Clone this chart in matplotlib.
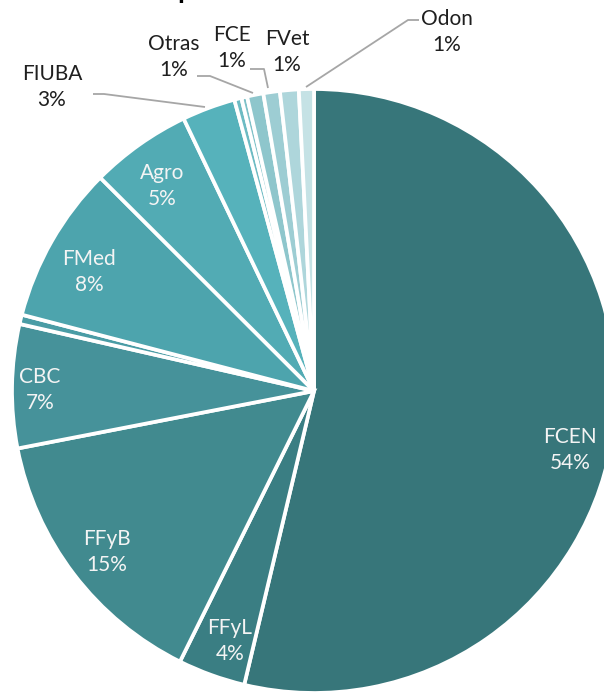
import matplotlib
matplotlib.use("Agg")
import matplotlib.pyplot as plt

# ---- data ----
categories = ["FCEN", "FFyL", "FFyB", "CBC", "", "FMed", "Agro", "FIUBA",
              "", "", "Otras", "FCE", "FVet", "Odon"]
values = [53.6, 3.6, 14.6, 6.6, 0.5, 8.4, 5.4, 2.85,
          0.38, 0.31, 0.87, 0.88, 1.0, 0.8]
colors = ["#37767A", "#3A7E83", "#418A8F", "#46929A", "#4A9CA5", "#4DA4AD",
          "#52ABB4", "#56B2BB", "#6DBBC3", "#7EC1C8", "#8EC6CC", "#9DCDD3",
          "#AED6DB", "#C5E2E5"]

W, H = 604, 692
CX, CY, R = 314, 391, 302

def px(x, y):
    """pixel position -> data coordinates (pie radius = 1)"""
    return (x - CX) / R, (CY - y) / R

fig = plt.figure(figsize=(W / 100, H / 100), dpi=100)
ax = fig.add_axes([0, 0, 1, 1])

ax.pie(values, colors=colors, startangle=90, counterclock=False,
       radius=1.0, center=(0, 0),
       wedgeprops=dict(edgecolor="white", linewidth=2.7))

ax.set_aspect("auto")
ax.set_xlim(-CX / R, (W - CX) / R)
ax.set_ylim(-(H - CY) / R, CY / R)
ax.axis("off")

FONT = ["Lato", "DejaVu Sans"]
FS = 15

# label centre positions (pixels) and colour
label_pos = {
    "FCEN": ((570, 450), "#F4F4F4"),
    "FFyL": ((230, 641), "#F4F4F4"),
    "FFyB": ((107, 552), "#F4F4F4"),
    "CBC": ((40, 390), "#F4F4F4"),
    "FMed": ((89, 272), "#F4F4F4"),
    "Agro": ((162, 186), "#F4F4F4"),
    "FIUBA": ((52, 87), "#1F1F1F"),
    "Otras": ((174, 57), "#1F1F1F"),
    "FCE": ((232, 48), "#1F1F1F"),
    "FVet": ((287, 52), "#1F1F1F"),
    "Odon": ((447, 32), "#1F1F1F"),
}

for cat, val in zip(categories, values):
    if not cat:
        continue
    (lx, ly), col = label_pos[cat]
    x, y = px(lx, ly)
    ax.text(x, y, f"{cat}\n{round(val)}%", ha="center", va="center",
            fontsize=FS, color=col, family=FONT, linespacing=1.4)

# leader lines (pixels)
leaders = [
    [(93, 94), (104, 94), (205, 107)],
    [(197, 76), (210, 76), (253, 93)],
    [(250, 69), (264, 69), (268, 88)],
    [(419, 20), (408, 20), (306, 87)],
]
for pts in leaders:
    xs, ys = zip(*[px(a, b) for a, b in pts])
    ax.plot(xs, ys, color="#A6A6A6", linewidth=1.3, solid_capstyle="butt")

# cropped title (only the descender of a letter is visible)
tx, ty = px(185, -2)
ax.text(tx, ty, "p", ha="center", va="baseline", fontsize=20,
        fontweight="bold", color="#000000", family=FONT)

fig.savefig("out.png", dpi=100)
